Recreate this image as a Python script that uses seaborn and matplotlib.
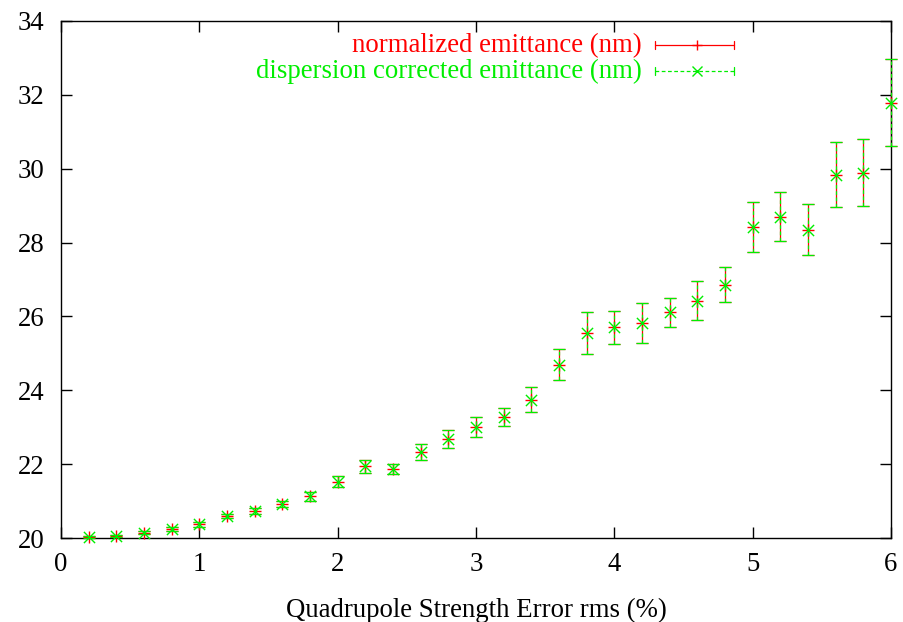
import matplotlib
matplotlib.use("Agg")
import matplotlib.pyplot as plt
import seaborn as sns
import pandas as pd

# ---- data ----
x_err_pct = [0.2, 0.4, 0.6, 0.8, 1.0, 1.2, 1.4, 1.6, 1.8, 2.0,
             2.2, 2.4, 2.6, 2.8, 3.0, 3.2, 3.4, 3.6, 3.8, 4.0,
             4.2, 4.4, 4.6, 4.8, 5.0, 5.2, 5.4, 5.6, 5.8, 6.0]
norm_emit = [20.03, 20.06, 20.14, 20.24, 20.37, 20.59, 20.73, 20.93, 21.13, 21.52,
             21.94, 21.87, 22.33, 22.68, 23.01, 23.28, 23.75, 24.69, 25.55, 25.71,
             25.83, 26.11, 26.43, 26.86, 28.42, 28.70, 28.35, 29.84, 29.89, 31.79]
norm_err = [0.02, 0.03, 0.04, 0.05, 0.06, 0.06, 0.07, 0.08, 0.12, 0.15,
            0.17, 0.13, 0.22, 0.24, 0.27, 0.25, 0.34, 0.42, 0.57, 0.45,
            0.54, 0.39, 0.52, 0.47, 0.67, 0.66, 0.70, 0.87, 0.91, 1.18]
disp_emit = [20.03, 20.06, 20.14, 20.24, 20.37, 20.59, 20.73, 20.93, 21.13, 21.52,
             21.94, 21.87, 22.33, 22.68, 23.01, 23.28, 23.75, 24.69, 25.55, 25.71,
             25.83, 26.11, 26.43, 26.86, 28.42, 28.70, 28.35, 29.84, 29.89, 31.79]
disp_err = [0.02, 0.03, 0.04, 0.05, 0.06, 0.06, 0.07, 0.08, 0.12, 0.15,
            0.17, 0.13, 0.22, 0.24, 0.27, 0.25, 0.34, 0.42, 0.57, 0.45,
            0.54, 0.39, 0.52, 0.47, 0.67, 0.66, 0.70, 0.87, 0.91, 1.18]
labels = ["normalized emittance (nm)", "dispersion corrected emittance (nm)"]
x_ticks = [0, 1, 2, 3, 4, 5, 6]
y_ticks = [20, 22, 24, 26, 28, 30, 32, 34]
x_label = "Quadrupole Strength Error rms (%)"

RED = "#ff0000"
GREEN = "#00ee00"

sns.set_theme(style="white")
plt.rcParams["font.family"] = ["Liberation Serif", "DejaVu Serif"]
FS = 19.3

df = pd.DataFrame({"x": x_err_pct, "norm": norm_emit, "norm_err": norm_err,
                   "disp": disp_emit, "disp_err": disp_err})

fig = plt.figure(figsize=(9.04, 6.22), dpi=100)
ax = fig.add_axes([61 / 904, 84 / 622, 830 / 904, 517 / 622])

def unclip(container):
    for part in container.lines:
        if part is None:
            continue
        items = part if isinstance(part, (tuple, list)) else [part]
        for it in items:
            it.set_clip_on(False)

# normalized emittance: solid error bars, '+' points
eb1 = ax.errorbar(df["x"], df["norm"], yerr=df["norm_err"], fmt="none",
                  ecolor=RED, elinewidth=0.9, capsize=4, capthick=0.9, zorder=2)
unclip(eb1)
sns.scatterplot(data=df, x="x", y="norm", marker="+", s=85, color=RED,
                linewidth=1.0, ax=ax, zorder=3, legend=False, clip_on=False)

# dispersion corrected: dashed error bars, 'x' points
eb2 = ax.errorbar(df["x"], df["disp"], yerr=df["disp_err"], fmt="none",
                  ecolor=GREEN, elinewidth=0.9, capsize=4, capthick=0.9, zorder=4)
eb2[2][0].set_linestyle((0, (3, 2)))
unclip(eb2)
sns.scatterplot(data=df, x="x", y="disp", marker="x", s=65, color=GREEN,
                linewidth=1.0, ax=ax, zorder=5, legend=False, clip_on=False)

ax.set_xlim(0, 6)
ax.set_ylim(20, 34)
ax.set_xticks(x_ticks)
ax.set_yticks(y_ticks)
ax.set_xticklabels([str(t) for t in x_ticks])
ax.set_yticklabels([str(t) for t in y_ticks])
ax.tick_params(axis="both", which="major", direction="in", length=8, width=1,
               color="black", labelsize=FS, labelcolor="black",
               top=True, right=True, bottom=True, left=True)
ax.tick_params(axis="y", pad=12)
ax.tick_params(axis="x", pad=10)
ax.set_xlabel(x_label, fontsize=FS, color="black", labelpad=15)
ax.set_ylabel("")
for sp in ax.spines.values():
    sp.set_color("black")
    sp.set_linewidth(1.0)
    sp.set_visible(True)

# gnuplot-style key (top right, text right-aligned, sample on the right)
rows = [(0.953, RED, "-", "+", labels[0]), (0.903, GREEN, (0, (3, 2)), "x", labels[1])]
x0, x1, xm, xt = 0.7157, 0.8108, 0.766, 0.700
for yy, col, ls, mk, lab in rows:
    ax.text(xt, yy, lab, transform=ax.transAxes, ha="right", va="center",
            color=col, fontsize=FS)
    ax.plot([x0, x1], [yy, yy], transform=ax.transAxes, color=col, lw=0.9,
            linestyle=ls, clip_on=False)
    ax.plot([x0, x0], [yy - 0.008, yy + 0.008], transform=ax.transAxes, color=col, lw=0.9)
    ax.plot([x1, x1], [yy - 0.008, yy + 0.008], transform=ax.transAxes, color=col, lw=0.9)
    ax.plot([xm], [yy], transform=ax.transAxes, color=col, marker=mk, ms=7, mew=1.0)

fig.savefig("out.png", dpi=100)
